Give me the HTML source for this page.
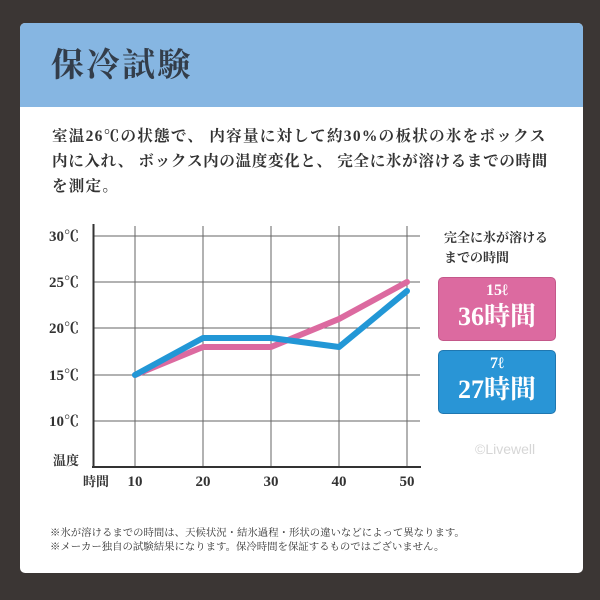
<!DOCTYPE html>
<html><head><meta charset="utf-8"><style>
body{margin:0;width:600px;height:600px;background:#3b3634;position:relative;overflow:hidden;font-family:"Liberation Serif","Noto Serif CJK SC",serif}
.card{position:absolute;left:20px;top:23px;width:563px;height:550px;background:#fff;border-radius:5px;overflow:hidden}
.hdr{position:absolute;left:0;top:0;width:100%;height:84px;background:#86b6e2}
.title{position:absolute;left:31px;top:27px;font-size:33px;font-weight:bold;color:#333d4a;letter-spacing:2.5px;line-height:1}
.body{position:absolute;left:32px;top:101px;font-size:15.5px;font-weight:bold;color:#333;line-height:25px;letter-spacing:1.3px;white-space:nowrap}
.note{position:absolute;left:30px;top:504px;font-size:10.4px;color:#333;line-height:14px;white-space:nowrap}
.box{position:absolute;left:418px;width:116px;height:62px;border-radius:5px;color:#fff;text-align:center;font-weight:bold}
.box .a{font-size:16px;line-height:20px;margin-top:3px}
.box .b{font-size:26px;line-height:32px}
</style></head><body>
<div class="card">
<div class="hdr"></div>
<div class="title">保冷試験</div>
<div class="body">室温26℃の状態で、 内容量に対して約30%の板状の氷をボックス<br><span style="letter-spacing:0.7px">内に入れ、 ボックス内の温度変化と、 完全に氷が溶けるまでの時間</span><br>を測定。</div>
<div style="position:absolute;left:424px;top:205px;font-size:13px;font-weight:bold;color:#333;line-height:20px">完全に氷が溶ける<br>までの時間</div>
<div class="box" style="top:254px;background:#dc6aa0;border:1px solid #c4588a"><div class="a">15ℓ</div><div class="b">36時間</div></div>
<div class="box" style="top:327px;background:#2995d6;border:1px solid #1f77b0"><div class="a">7ℓ</div><div class="b">27時間</div></div>
<div style="position:absolute;left:455px;top:418px;font-size:14px;color:#d6d6d6;font-family:'Liberation Sans',sans-serif">©Livewell</div>
<div class="note">※氷が溶けるまでの時間は、天候状況・結氷過程・形状の違いなどによって異なります。<br>※メーカー独自の試験結果になります。保冷時間を保証するものではございません。</div>
</div>
<svg width="600" height="600" style="position:absolute;left:0;top:0" font-family="Liberation Serif, Noto Serif CJK SC, serif" font-weight="bold">
<g stroke="#666" stroke-width="1">
<line x1="93" y1="236" x2="420" y2="236"/><line x1="93" y1="282" x2="420" y2="282"/><line x1="93" y1="328" x2="420" y2="328"/><line x1="93" y1="375" x2="420" y2="375"/><line x1="93" y1="421" x2="420" y2="421"/>
<line x1="135" y1="226" x2="135" y2="467"/><line x1="203" y1="226" x2="203" y2="467"/><line x1="271" y1="226" x2="271" y2="467"/><line x1="339" y1="226" x2="339" y2="467"/><line x1="407" y1="226" x2="407" y2="467"/>
</g>
<line x1="93.5" y1="224" x2="93.5" y2="467" stroke="#333" stroke-width="2"/>
<line x1="92" y1="467" x2="421" y2="467" stroke="#333" stroke-width="2"/>
<g font-size="15" fill="#333" text-anchor="start">
<text x="49" y="241">30℃</text><text x="49" y="287">25℃</text><text x="49" y="333">20℃</text><text x="49" y="380">15℃</text><text x="49" y="426">10℃</text>
<text x="53" y="465" font-size="13">温度</text>
<text x="83" y="486" font-size="13">時間</text>
</g>
<g font-size="15" fill="#333" text-anchor="middle">
<text x="135" y="486">10</text><text x="203" y="486">20</text><text x="271" y="486">30</text><text x="339" y="486">40</text><text x="407" y="486">50</text>
</g>
<polyline points="135,375 203,347 271,347 339,319 407,282" fill="none" stroke="#dc6aa0" stroke-width="6" stroke-linejoin="round" stroke-linecap="round"/>
<polyline points="135,375 203,338 271,338 339,347 407,291" fill="none" stroke="#2297d6" stroke-width="6" stroke-linejoin="round" stroke-linecap="round"/>
</svg>
</body></html>
